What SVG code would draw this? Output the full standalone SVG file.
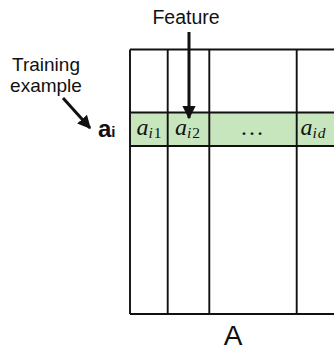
<svg xmlns="http://www.w3.org/2000/svg" width="334" height="350" viewBox="0 0 334 350">
  <style>
    .label { font-family: "Liberation Sans", Arial, sans-serif; fill: #111; }
    .math { font-family: "Liberation Serif", "Times New Roman", serif; fill: #111; }
    .grid { stroke: #111; stroke-width: 1.9; fill: none; }
    .row { fill: #c8e6bd; }
    .conn { stroke: #111; stroke-width: 3; fill: none; }
  </style>
  <defs>
    <marker id="head" viewBox="0 0 10 10" refX="9" refY="5" markerWidth="4.4" markerHeight="4.4" orient="auto" markerUnits="strokeWidth">
      <path d="M0,0 L10,5 L0,10 Z" fill="#111"/>
    </marker>
  </defs>

  <rect width="334" height="350" fill="#fff"/>

  <!-- data matrix A: highlighted row, then the grid lines -->
  <g id="matrix">
    <rect class="row" x="130" y="112.5" width="210" height="33.5"/>
    <path class="grid" d="M130,49.5 H340 M130,112.5 H340 M130,146 H340 M130,314 H340"/>
    <path class="grid" d="M130,49.5 V314 M167.7,49.5 V314 M209.3,49.5 V314 M296.7,49.5 V314"/>
  </g>

  <!-- entries of row a_i -->
  <g id="cell-ai1">
    <text class="math" x="136.5" y="135" font-size="24" font-style="italic">a<tspan font-size="15.5" dy="3">i</tspan><tspan font-size="15.5" font-style="normal" dx="1">1</tspan></text>
  </g>
  <g id="cell-ai2">
    <text class="math" x="175" y="135" font-size="24" font-style="italic">a<tspan font-size="15.5" dy="3">i</tspan><tspan font-size="15.5" font-style="normal" dx="1">2</tspan></text>
  </g>
  <g id="cell-dots">
    <text class="math" x="252" y="135" font-size="24" text-anchor="middle">…</text>
  </g>
  <g id="cell-aid">
    <text class="math" x="300.5" y="135" font-size="24" font-style="italic">a<tspan font-size="15.5" dy="3">i</tspan><tspan font-size="15.5" dx="1">d</tspan></text>
  </g>

  <!-- row and column labels -->
  <g id="feature">
    <text class="label" x="186" y="24" font-size="19.5" text-anchor="middle">Feature</text>
  </g>
  <g id="training-example">
    <text class="label" x="46" y="70.5" font-size="19" text-anchor="middle">Training</text>
    <text class="label" x="46" y="91.5" font-size="19" text-anchor="middle">example</text>
  </g>
  <g id="row-name">
    <text class="label" x="98" y="137" font-size="24" font-weight="bold">a<tspan font-size="15">i</tspan></text>
  </g>
  <g id="matrix-name">
    <text class="label" x="233" y="345" font-size="28" text-anchor="middle">A</text>
  </g>

  <!-- pointers -->
  <g id="connectors">
    <line class="conn" x1="189" y1="32" x2="189" y2="118" marker-end="url(#head)"/>
    <line class="conn" x1="63" y1="98" x2="90" y2="128" marker-end="url(#head)"/>
  </g>
</svg>
